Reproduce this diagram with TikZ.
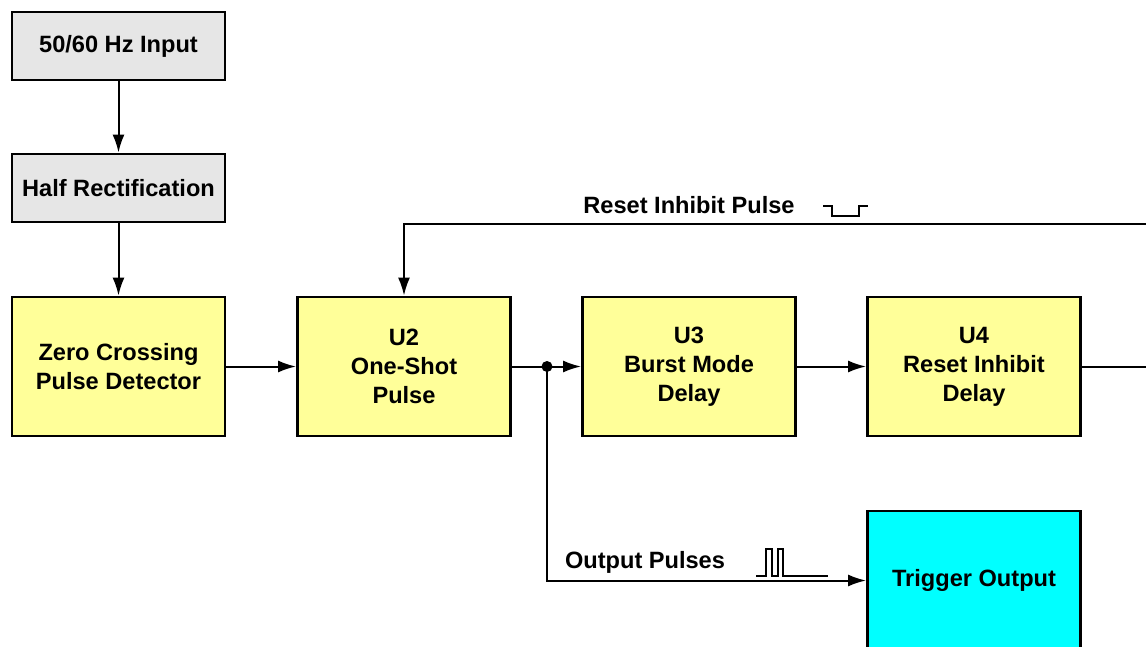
\documentclass[tikz,border=0pt]{standalone}
\usepackage{fontspec}
\setmainfont{Liberation Sans}
\usepackage{xcolor}
\usetikzlibrary{arrows.meta}
\usetikzlibrary{positioning}

\definecolor{boxgray}{HTML}{E6E6E6}
\definecolor{boxyellow}{HTML}{FFFF99}
\definecolor{boxcyan}{HTML}{00FFFF}

\tikzset{
  blk/.style={draw, line width=2.8pt, minimum width=213pt, align=center,
              inner sep=0pt, font=\fontsize{23.6}{29}\selectfont\bfseries},
  grayblk/.style={blk, fill=boxgray, minimum height=68pt},
  yelblk/.style={blk, fill=boxyellow, minimum height=139pt},
  cyanblk/.style={blk, fill=boxcyan, minimum height=139pt},
  wire/.style={line width=2pt},
  lbl/.style={font=\fontsize{23.6}{29}\selectfont\bfseries, inner sep=0pt}
}

\begin{document}
\begin{tikzpicture}[x=1pt, y=-1pt, >={Latex[length=18pt,width=12pt]}]
    \path[use as bounding box] (0,0) rectangle (1146,647);
    \clip (0,0) rectangle (1146,647);

\node[grayblk] (In) at (118.5,46) {50/60 Hz Input};
\node[grayblk] (HR) at (118.5,188) {Half Rectification};
\node[yelblk] (ZC) at (118.5,366.5) {Zero Crossing\\Pulse Detector};
\node[yelblk] (U2) at (404,366.5) {U2\\One-Shot\\Pulse};
\node[yelblk] (U3) at (689,366.5) {U3\\Burst Mode\\Delay};
\node[yelblk] (U4) at (974,366.5) {U4\\Reset Inhibit\\Delay};
\node[cyanblk] (TO) at (974,580.5) {Trigger Output};

\coordinate (FB) at (1146,224);
\coordinate (FBU2) at (U2.north |- FB);
\coordinate (U4out) at (1146,366.5);
\coordinate (J) at (547,366.5);
\coordinate (Jdn) at (J |- TO);

% main chain
\foreach \a / \b in {In/HR, HR/ZC}
  \draw[wire,->] (\a) -- (\b);
\foreach \a / \b in {ZC/U2, U2/U3, U3/U4}
  \draw[wire,->] (\a) -- (\b);
\draw[wire] (U4) -- (U4out);

% reset inhibit feedback
\draw[wire,->] (FB) -- (FBU2) -- (U2);
\node[lbl] (RIP) at (689,205) {Reset Inhibit Pulse};
\draw[line width=2pt] (823,206) -- (832,206) -- (832,216) -- (859,216) -- (859,206) -- (868,206);

% output pulses
\fill (J) circle (5.5pt);
\draw[wire,->] (J) -- (Jdn) -- (TO);
\node[lbl] (OP) at (645,562) {Output Pulses};
\draw[line width=2pt] (756,576) -- (766,576) -- (766,549) -- (772,549) -- (772,576)
  -- (778,576) -- (778,549) -- (783,549) -- (783,576) -- (828,576);
\end{tikzpicture}
\end{document}
